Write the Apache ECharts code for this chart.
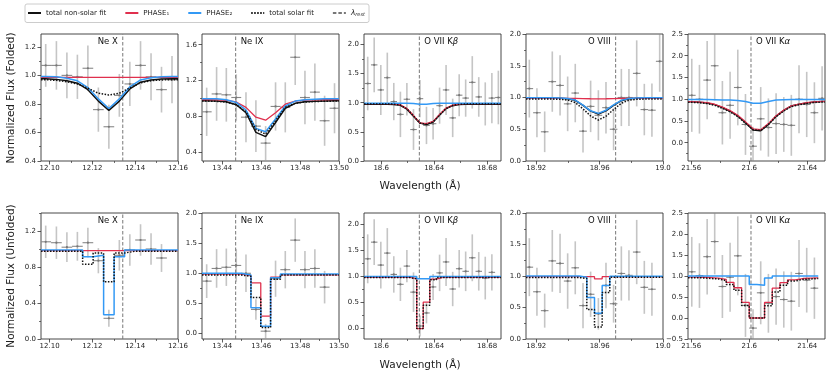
<!DOCTYPE html>
<html>
<head>
<meta charset="utf-8">
<script src="https://cdn.jsdelivr.net/npm/echarts@6/dist/echarts.min.js"></script>
<style>
html, body { margin: 0; padding: 0; background: #fff; }
#chart { width: 830px; height: 378px; }
</style>
</head>
<body>
<div id="chart"></div>
<script>
// ---- panel axes ----
var ionLabels = ['Ne X', 'Ne IX', 'O VII K{i|β}', 'O VIII', 'O VII K{i|α}'];
var labelSide = ['left', 'right', 'right', 'left', 'right'];
var xMin = [12.096, 13.4296, 18.587, 18.9135, 21.5578];
var xMax = [12.16, 13.50, 18.6905, 19.0, 21.6522];
var lambdaRest = [12.1342, 13.4469, 18.6288, 18.9701, 21.6012];
var xTicks = [[12.10, 12.12, 12.14, 12.16], [13.44, 13.46, 13.48, 13.50], [18.60, 18.64, 18.68], [18.92, 18.96, 19.00], [21.56, 21.60, 21.64]];
var xTickText = [['12.10', '12.12', '12.14', '12.16'], ['13.44', '13.46', '13.48', '13.50'], ['18.6', '18.64', '18.68'], ['18.92', '18.96', '19.0'], ['21.56', '21.6', '21.64']];
var yMinFold = [0.4, 0.3, 0, 0, -0.42];
var yMaxFold = [1.29, 1.72, 2.18, 2.0, 2.5];
var yTicksFold = [[0.4, 0.6, 0.8, 1.0, 1.2], [0.4, 0.8, 1.2, 1.6], [0, 0.5, 1, 1.5, 2], [0, 0.5, 1, 1.5, 2], [0, 0.5, 1, 1.5, 2, 2.5]];
var yMinUnf = [0, -0.09, -0.2, 0, -0.5];
var yMaxUnf = [1.4, 2.0, 2.22, 2.0, 2.5];
var yTicksUnf = [[0, 0.4, 0.8, 1.2], [0, 0.5, 1, 1.5, 2], [0, 0.5, 1, 1.5, 2], [0, 0.5, 1, 1.5, 2], [-0.5, 0, 0.5, 1, 1.5, 2, 2.5]];

// ---- Ne X ----
var neX_wave = [12.0982, 12.1032, 12.1081, 12.1130, 12.1179, 12.1228, 12.1277, 12.1326, 12.1375, 12.1425, 12.1474, 12.1523, 12.1572];
var neX_foldFlux = [1.07, 1.07, 1.00, 0.99, 1.05, 0.76, 0.64, 0.86, 0.94, 1.07, 0.99, 0.90, 0.97];
var neX_foldErr = [0.15, 0.17, 0.16, 0.155, 0.16, 0.155, 0.155, 0.15, 0.155, 0.17, 0.165, 0.16, 0.165];
var neX_unfFlux = [1.08, 1.07, 1.02, 1.03, 1.07, 0.87, 0.23, 0.93, 0.99, 1.10, 1.00, 0.90, null];
var neX_unfErr = [0.18, 0.18, 0.165, 0.16, 0.165, 0.14, 0.095, 0.17, 0.175, 0.175, 0.175, 0.155, null];
var neX_foldNonSolar = [0.976, 0.972, 0.962, 0.945, 0.900, 0.820, 0.755, 0.820, 0.905, 0.952, 0.968, 0.974, 0.976];
var neX_foldP1 = [0.986, 0.986, 0.986, 0.986, 0.986, 0.986, 0.986, 0.986, 0.986, 0.986, 0.986, 0.986, 0.986];
var neX_foldP2 = [0.992, 0.990, 0.980, 0.962, 0.915, 0.835, 0.768, 0.835, 0.920, 0.968, 0.984, 0.990, 0.992];
var neX_foldSolar = [0.970, 0.965, 0.955, 0.940, 0.910, 0.875, 0.862, 0.875, 0.912, 0.948, 0.963, 0.968, 0.970];
var neX_unfP1 = [0.983, 0.983, 0.983, 0.983, 0.983, 0.983, 0.983, 0.983, 0.983, 0.983, 0.983, 0.983, 0.983];
var neX_unfP2 = [0.99, 0.99, 0.99, 0.99, 0.915, 0.93, 0.27, 0.915, 0.99, 0.99, 0.99, 0.99, 0.99];
var neX_unfSolar = [0.975, 0.975, 0.975, 0.975, 0.83, 0.955, 0.635, 0.955, 0.975, 0.975, 0.975, 0.975, 0.975];

// ---- Ne IX ----
var neIX_wave = [13.4320, 13.4371, 13.4421, 13.4472, 13.4522, 13.4573, 13.4623, 13.4674, 13.4724, 13.4775, 13.4825, 13.4876, 13.4926, 13.4977];
var neIX_foldFlux = [0.85, 1.05, 1.04, 1.01, 0.79, 0.69, 0.50, 0.91, 0.90, 1.46, 1.01, 1.07, 0.75, 0.89];
var neIX_foldErr = [0.27, 0.30, 0.30, 0.26, 0.28, 0.29, 0.19, 0.27, 0.28, 0.31, 0.30, 0.32, 0.28, 0.28];
var neIX_unfFlux = [0.87, 1.08, 1.10, 1.13, 1.00, 0.40, 0.04, 0.91, 1.06, 1.55, 1.06, 1.08, 0.77, null];
var neIX_unfErr = [0.28, 0.32, 0.31, 0.27, 0.31, 0.17, 0.12, 0.30, 0.31, 0.36, 0.31, 0.32, 0.27, null];
var neIX_foldNonSolar = [0.975, 0.972, 0.962, 0.930, 0.840, 0.620, 0.572, 0.730, 0.890, 0.945, 0.962, 0.968, 0.972, 0.975];
var neIX_foldP1 = [0.985, 0.983, 0.977, 0.960, 0.900, 0.790, 0.756, 0.840, 0.935, 0.970, 0.980, 0.983, 0.985, 0.986];
var neIX_foldP2 = [0.997, 0.995, 0.985, 0.955, 0.870, 0.665, 0.627, 0.770, 0.915, 0.970, 0.985, 0.990, 0.995, 0.997];
var neIX_foldSolar = [0.970, 0.967, 0.958, 0.930, 0.850, 0.655, 0.600, 0.750, 0.900, 0.945, 0.960, 0.965, 0.968, 0.970];
var neIX_unfP1 = [0.985, 0.985, 0.985, 0.985, 0.96, 0.84, 0.29, 0.935, 0.975, 0.975, 0.975, 0.975, 0.975, 0.975];
var neIX_unfP2 = [1.0, 1.0, 1.0, 1.0, 0.97, 0.43, 0.12, 0.925, 0.99, 0.99, 0.99, 0.99, 0.99, 0.99];
var neIX_unfSolar = [0.97, 0.97, 0.97, 0.97, 0.95, 0.60, 0.10, 0.90, 0.97, 0.97, 0.97, 0.97, 0.97, 0.97];

// ---- O VII K beta ----
var o7b_wave = [18.5898, 18.5947, 18.5997, 18.6046, 18.6095, 18.6145, 18.6194, 18.6244, 18.6293, 18.6342, 18.6392, 18.6441, 18.6490, 18.6540, 18.6589, 18.6638, 18.6688, 18.6737, 18.6786, 18.6836, 18.6885];
var o7b_foldFlux = [1.33, 1.65, 1.22, 1.43, 1.02, 0.80, 1.06, 0.54, 1.07, 0.61, 0.64, 0.95, 1.22, 0.74, 1.13, 1.08, 1.35, 1.10, 0.98, 1.08, 1.09];
var o7b_foldErr = [0.46, 0.47, 0.43, 0.43, 0.32, 0.39, 0.28, 0.35, 0.32, 0.32, 0.27, 0.31, 0.43, 0.33, 0.36, 0.32, 0.45, 0.34, 0.37, 0.43, 0.46];
var o7b_unfFlux = [1.34, 1.66, 1.22, 1.45, 1.04, 0.85, 1.20, 0.70, 0.05, 0.30, 0.80, 1.07, 1.28, 0.76, 1.15, 1.10, 1.36, 1.10, 0.97, 1.08, null];
var o7b_unfErr = [0.47, 0.44, 0.45, 0.48, 0.35, 0.32, 0.31, 0.38, 0.20, 0.20, 0.25, 0.35, 0.46, 0.33, 0.36, 0.38, 0.45, 0.37, 0.41, 0.35, null];
var o7b_foldNonSolar = [0.975, 0.975, 0.975, 0.975, 0.97, 0.955, 0.89, 0.77, 0.65, 0.625, 0.67, 0.79, 0.90, 0.95, 0.968, 0.975, 0.975, 0.975, 0.975, 0.975, 0.975];
var o7b_foldP1 = [0.985, 0.985, 0.985, 0.985, 0.98, 0.965, 0.90, 0.78, 0.655, 0.64, 0.68, 0.80, 0.91, 0.96, 0.978, 0.985, 0.985, 0.985, 0.985, 0.985, 0.985];
var o7b_foldP2 = [0.99, 0.99, 0.99, 0.99, 0.99, 0.99, 0.99, 0.985, 0.975, 0.975, 0.985, 0.99, 0.99, 0.99, 0.99, 0.99, 0.99, 0.99, 0.99, 0.99, 0.99];
var o7b_foldSolar = [0.978, 0.978, 0.978, 0.978, 0.975, 0.96, 0.895, 0.775, 0.65, 0.63, 0.67, 0.79, 0.90, 0.955, 0.972, 0.978, 0.978, 0.978, 0.978, 0.978, 0.978];
var o7b_unfP1 = [0.985, 0.985, 0.985, 0.985, 0.985, 0.985, 0.985, 0.96, 0.0, 0.51, 0.95, 0.985, 0.985, 0.985, 0.985, 0.985, 0.985, 0.985, 0.985, 0.985, 0.985];
var o7b_unfP2 = [1.0, 1.0, 1.0, 1.0, 1.0, 1.0, 1.0, 1.0, 0.955, 0.955, 1.0, 1.0, 1.0, 1.0, 1.0, 1.0, 1.0, 1.0, 1.0, 1.0, 1.0];
var o7b_unfSolar = [0.98, 0.98, 0.98, 0.98, 0.98, 0.98, 0.98, 0.955, 0.0, 0.45, 0.94, 0.98, 0.98, 0.98, 0.98, 0.98, 0.98, 0.98, 0.98, 0.98, 0.98];

// ---- O VIII ----
var o8_wave = [18.9156, 18.9204, 18.9253, 18.9301, 18.9350, 18.9398, 18.9446, 18.9495, 18.9543, 18.9592, 18.9640, 18.9688, 18.9737, 18.9785, 18.9834, 18.9882, 18.9930, 18.9979];
var o8_foldFlux = [1.14, 0.76, 0.46, 1.25, 1.19, 0.90, 1.07, 0.47, 0.86, 0.72, 0.84, 0.50, 1.00, 1.00, 1.38, 0.81, 0.80, 1.57];
var o8_foldErr = [0.455, 0.385, 0.32, 0.475, 0.475, 0.43, 0.46, 0.335, 0.405, 0.395, 0.405, 0.33, 0.45, 0.45, 0.52, 0.405, 0.42, 0.48];
var o8_unfFlux = [1.14, 0.75, 0.45, 1.24, 1.20, 0.92, 1.13, 0.53, 0.71, 0.40, 0.85, 0.56, 1.04, 1.01, 1.38, 0.82, 0.79, null];
var o8_unfErr = [0.46, 0.38, 0.27, 0.49, 0.47, 0.44, 0.42, 0.36, 0.36, 0.25, 0.36, 0.30, 0.43, 0.40, 0.51, 0.42, 0.42, null];
var o8_foldNonSolar = [0.99, 0.99, 0.99, 0.99, 0.988, 0.98, 0.955, 0.875, 0.785, 0.74, 0.79, 0.875, 0.95, 0.98, 0.988, 0.99, 0.99, 0.99];
var o8_foldP1 = [0.986, 0.986, 0.986, 0.986, 0.986, 0.986, 0.985, 0.983, 0.98, 0.978, 0.98, 0.983, 0.985, 0.986, 0.986, 0.986, 0.986, 0.986];
var o8_foldP2 = [0.995, 0.995, 0.995, 0.995, 0.993, 0.985, 0.96, 0.88, 0.79, 0.75, 0.80, 0.885, 0.955, 0.985, 0.993, 0.995, 0.995, 0.995];
var o8_foldSolar = [0.975, 0.975, 0.975, 0.975, 0.972, 0.96, 0.92, 0.82, 0.71, 0.645, 0.705, 0.81, 0.91, 0.958, 0.972, 0.975, 0.975, 0.975];
var o8_unfP1 = [0.99, 0.99, 0.99, 0.99, 0.99, 0.99, 0.99, 0.99, 0.99, 0.955, 0.99, 0.99, 0.99, 0.99, 0.99, 0.99, 0.99, 0.99];
var o8_unfP2 = [1.0, 1.0, 1.0, 1.0, 1.0, 1.0, 1.0, 0.98, 0.66, 0.41, 0.85, 0.995, 0.995, 0.995, 0.995, 0.995, 0.995, 0.995];
var o8_unfSolar = [0.975, 0.975, 0.975, 0.975, 0.975, 0.975, 0.975, 0.96, 0.47, 0.19, 0.74, 0.98, 0.98, 0.98, 0.98, 0.98, 0.98, 0.98];

// ---- O VII K alpha ----
var o7a_wave = [21.5604, 21.5657, 21.5710, 21.5762, 21.5815, 21.5868, 21.5921, 21.5974, 21.6026, 21.6079, 21.6132, 21.6185, 21.6238, 21.6290, 21.6343, 21.6396, 21.6449, 21.6502];
var o7a_foldFlux = [1.09, 1.00, 1.44, 1.77, 0.69, 0.86, 1.27, 0.42, -0.08, 0.55, 0.35, 0.44, 0.42, 0.40, 1.00, 0.88, 0.69, 1.02];
var o7a_foldErr = [0.84, 0.79, 0.90, 0.80, 0.73, 0.77, 0.87, 0.70, 0.45, 0.73, 0.67, 0.70, 0.63, 0.70, 0.78, 0.75, 0.70, 0.74];
var o7a_unfFlux = [1.10, 1.01, 1.46, 1.82, 0.75, 0.97, 1.48, 0.30, -0.24, 0.60, 0.35, 0.51, 0.44, 0.40, 1.06, 0.90, 0.71, null];
var o7a_unfErr = [0.83, 0.77, 0.90, 0.78, 0.75, 0.82, 0.94, 0.75, 0.45, 0.75, 0.70, 0.67, 0.67, 0.70, 0.80, 0.77, 0.73, null];
var o7a_foldNonSolar = [0.94, 0.93, 0.913, 0.876, 0.81, 0.725, 0.615, 0.46, 0.295, 0.275, 0.42, 0.608, 0.743, 0.846, 0.886, 0.916, 0.936, 0.946];
var o7a_foldP1 = [0.946, 0.935, 0.92, 0.885, 0.82, 0.74, 0.63, 0.48, 0.32, 0.30, 0.44, 0.62, 0.75, 0.85, 0.89, 0.92, 0.94, 0.95];
var o7a_foldP2 = [0.995, 0.995, 0.993, 0.99, 0.985, 0.98, 0.97, 0.95, 0.91, 0.91, 0.95, 0.98, 0.99, 0.995, 0.995, 0.995, 0.995, 0.995];
var o7a_foldSolar = [0.93, 0.92, 0.90, 0.86, 0.79, 0.71, 0.60, 0.45, 0.30, 0.28, 0.42, 0.60, 0.73, 0.83, 0.875, 0.905, 0.925, 0.935];
var o7a_unfP1 = [0.975, 0.97, 0.96, 0.95, 0.92, 0.85, 0.72, 0.37, 0.0, 0.0, 0.37, 0.71, 0.84, 0.91, 0.94, 0.95, 0.955];
var o7a_unfP2 = [1.0, 1.0, 1.0, 1.0, 1.0, 1.0, 1.0, 1.0, 0.80, 0.78, 0.95, 1.0, 1.0, 1.0, 1.0, 1.0, 1.0];
var o7a_unfSolar = [0.96, 0.955, 0.94, 0.93, 0.89, 0.80, 0.66, 0.30, 0.0, 0.0, 0.29, 0.62, 0.78, 0.88, 0.92, 0.93, 0.94];

var panels = [
    {wave: neX_wave, fold: [neX_foldFlux, neX_foldErr], unf: [neX_unfFlux, neX_unfErr],
     foldModels: [neX_foldNonSolar, neX_foldP1, neX_foldP2, neX_foldSolar], unfModels: [null, neX_unfP1, neX_unfP2, neX_unfSolar]},
    {wave: neIX_wave, fold: [neIX_foldFlux, neIX_foldErr], unf: [neIX_unfFlux, neIX_unfErr],
     foldModels: [neIX_foldNonSolar, neIX_foldP1, neIX_foldP2, neIX_foldSolar], unfModels: [null, neIX_unfP1, neIX_unfP2, neIX_unfSolar]},
    {wave: o7b_wave, fold: [o7b_foldFlux, o7b_foldErr], unf: [o7b_unfFlux, o7b_unfErr],
     foldModels: [o7b_foldNonSolar, o7b_foldP1, o7b_foldP2, o7b_foldSolar], unfModels: [null, o7b_unfP1, o7b_unfP2, o7b_unfSolar]},
    {wave: o8_wave, fold: [o8_foldFlux, o8_foldErr], unf: [o8_unfFlux, o8_unfErr],
     foldModels: [o8_foldNonSolar, o8_foldP1, o8_foldP2, o8_foldSolar], unfModels: [null, o8_unfP1, o8_unfP2, o8_unfSolar]},
    {wave: o7a_wave, fold: [o7a_foldFlux, o7a_foldErr], unf: [o7a_unfFlux, o7a_unfErr],
     foldModels: [o7a_foldNonSolar, o7a_foldP1, o7a_foldP2, o7a_foldSolar], unfModels: [null, o7a_unfP1, o7a_unfP2, o7a_unfSolar]}
];

// ---- layout / style ----
var FONT = 'DejaVu Sans';
var RED = '#e0304e';
var BLUE = '#3399f5';
var colLeft = [41, 202, 364, 526, 688];
var rowTop = [34, 213];
var rowH = [127, 126];
var panelW = 137;
var modelNames = ['total non-solar fit', 'PHASE₁', 'PHASE₂', 'total solar fit'];
var modelLine = [
    {color: '#111', width: 1.5, type: 'solid'},
    {color: RED, width: 1.3, type: 'solid'},
    {color: BLUE, width: 1.5, type: 'solid'},
    {color: '#111', width: 1.5, type: [1.5, 1.5]}
];
var REST = 'λrest';

function minorTicks(major, lo, hi) {
    var step = (major[1] - major[0]) / 2;
    var out = [];
    var v = major[0] - step * Math.floor((major[0] - lo) / step + 1e-9);
    for (; v <= hi + 1e-9; v += step) {
        var isMajor = major.some(function (m) { return Math.abs(m - v) < step / 10; });
        if (!isMajor) out.push(+v.toFixed(6));
    }
    return out;
}

function curveData(wave, vals, x0, x1) {
    var pts = [[x0, vals[0]]];
    for (var k = 0; k < vals.length; k++) pts.push([wave[k], vals[k]]);
    pts.push([x1, vals[vals.length - 1]]);
    return pts;
}

function stepData(wave, vals, x0, x1) {
    var pts = [];
    for (var k = 0; k < vals.length; k++) {
        var left = k === 0 ? x0 : (wave[k - 1] + wave[k]) / 2;
        pts.push([left, vals[k]]);
    }
    var n = vals.length;
    var end = n === wave.length ? x1 : (wave[n - 1] + wave[n]) / 2;
    pts.push([end, vals[n - 1]]);
    return pts;
}

function renderErr(params, api) {
    var x = api.value(0), y = api.value(1), e = api.value(2), h = api.value(3);
    var top = api.coord([x, y + e]);
    var bot = api.coord([x, y - e]);
    var l = api.coord([x - h, y]);
    var r = api.coord([x + h, y]);
    var c = api.coord([x, y]);
    var cs = params.coordSys;
    return {
        type: 'group',
        clipPath: {type: 'rect', shape: {x: cs.x, y: cs.y, width: cs.width, height: cs.height}},
        children: [
            {type: 'line', shape: {x1: top[0], y1: top[1], x2: bot[0], y2: bot[1]},
             style: {stroke: 'rgba(140,140,140,0.5)', lineWidth: 1.6}},
            {type: 'line', shape: {x1: l[0], y1: l[1], x2: r[0], y2: r[1]},
             style: {stroke: '#888', lineWidth: 1.1}},
            {type: 'circle', shape: {cx: c[0], cy: c[1], r: 1.1}, style: {fill: '#777'}}
        ]
    };
}

var grids = [], xAxes = [], yAxes = [], series = [];

for (var r = 0; r < 2; r++) {
    for (var i = 0; i < 5; i++) {
        var g = r * 5 + i;
        var p = panels[i];
        var yMin = r === 0 ? yMinFold[i] : yMinUnf[i];
        var yMax = r === 0 ? yMaxFold[i] : yMaxUnf[i];
        var yT = r === 0 ? yTicksFold[i] : yTicksUnf[i];

        grids.push({
            left: colLeft[i], top: rowTop[r], width: panelW, height: rowH[r],
            show: true, borderColor: '#333', borderWidth: 0.9, backgroundColor: 'transparent',
            containLabel: false, outerBoundsMode: 'none'
        });

        (function (ii) {
            xAxes.push({
                gridIndex: g, type: 'value', min: xMin[ii], max: xMax[ii], position: 'bottom',
                axisLine: {show: false, onZero: false}, splitLine: {show: false},
                axisTick: {show: true, customValues: xTicks[ii], length: 3.5, lineStyle: {color: '#333', width: 0.8}},
                axisLabel: {
                    show: true, customValues: xTicks[ii], fontSize: 7, fontFamily: FONT, color: '#222', margin: 4,
                    formatter: function (v) {
                        for (var k = 0; k < xTicks[ii].length; k++) {
                            if (Math.abs(xTicks[ii][k] - v) < 1e-7) return xTickText[ii][k];
                        }
                        return '';
                    }
                }
            });
        })(i);
        var xMinor = minorTicks(xTicks[i], xMin[i], xMax[i]);
        xAxes.push({
            gridIndex: g, type: 'value', min: xMin[i], max: xMax[i], position: 'bottom',
            axisLine: {show: false, onZero: false}, splitLine: {show: false},
            axisTick: {show: true, customValues: xMinor, length: 2, lineStyle: {color: '#333', width: 0.7}},
            axisLabel: {show: true, customValues: xMinor, formatter: function () { return ''; }}
        });

        yAxes.push({
            gridIndex: g, type: 'value', min: yMin, max: yMax, position: 'left',
            axisLine: {show: false, onZero: false}, splitLine: {show: false},
            axisTick: {show: true, customValues: yT, length: 3.5, lineStyle: {color: '#333', width: 0.8}},
            axisLabel: {
                show: true, customValues: yT, fontSize: 7, fontFamily: FONT, color: '#222', margin: 5,
                formatter: function (v) { return (v < 0 ? '−' : '') + Math.abs(v).toFixed(1); }
            }
        });
        var yMinor = minorTicks(yT, yMin, yMax);
        yAxes.push({
            gridIndex: g, type: 'value', min: yMin, max: yMax, position: 'left',
            axisLine: {show: false, onZero: false}, splitLine: {show: false},
            axisTick: {show: true, customValues: yMinor, length: 2, lineStyle: {color: '#333', width: 0.7}},
            axisLabel: {show: true, customValues: yMinor, formatter: function () { return ''; }}
        });

        var xi = 2 * g, yi = 2 * g;

        // rest wavelength
        series.push({
            name: REST, type: 'line', xAxisIndex: xi, yAxisIndex: yi, symbol: 'none', silent: true, z: 1,
            itemStyle: {color: '#777'},
            lineStyle: {color: '#777', width: 1, type: [3.5, 2]},
            data: [[lambdaRest[i], yMin], [lambdaRest[i], yMax]]
        });

        // data points
        var obs = r === 0 ? p.fold : p.unf;
        var half = (p.wave[1] - p.wave[0]) / 2;
        var pts = [];
        for (var k = 0; k < p.wave.length; k++) {
            if (obs[0][k] == null) continue;
            pts.push([p.wave[k], obs[0][k], obs[1][k], half]);
        }
        series.push({
            name: 'data', type: 'custom', xAxisIndex: xi, yAxisIndex: yi, silent: true, z: 2,
            renderItem: renderErr, data: pts
        });

        // models
        var models = r === 0 ? p.foldModels : p.unfModels;
        for (var m = 0; m < 4; m++) {
            if (!models[m]) continue;
            series.push({
                name: modelNames[m], type: 'line', xAxisIndex: xi, yAxisIndex: yi,
                symbol: 'none', silent: true, z: 3 + m, step: r === 1 ? 'end' : false,
                itemStyle: {color: modelLine[m].color},
                lineStyle: modelLine[m],
                data: r === 0 ? curveData(p.wave, models[m], xMin[i], xMax[i]) : stepData(p.wave, models[m], xMin[i], xMax[i])
            });
        }
    }
}

var chart = echarts.init(document.getElementById('chart'));
chart.setOption({
    animation: false,
    backgroundColor: '#fff',
    textStyle: {fontFamily: FONT},
    legend: {
        data: ['total non-solar fit', 'PHASE₁', 'PHASE₂', 'total solar fit', REST],
        left: 25, top: 4, padding: [5, 4, 5, 2], itemGap: 18, itemWidth: 13, itemHeight: 8,
        borderColor: '#ccc', borderWidth: 1, borderRadius: 2, selectedMode: false,
        itemStyle: {opacity: 0},
        formatter: function (name) { return name === REST ? '{it|λ}{sub|rest}' : name; },
        textStyle: {
            fontSize: 7, fontFamily: FONT, color: '#222',
            rich: {
                it: {fontSize: 7.5, fontStyle: 'italic', fontFamily: FONT, color: '#222'},
                sub: {fontSize: 5, fontStyle: 'italic', fontFamily: FONT, color: '#222', padding: [4, 0, 0, 0]}
            }
        }
    },
    grid: grids,
    xAxis: xAxes,
    yAxis: yAxes,
    series: series
});

// titles and line labels
var graphics = [
    {type: 'text', x: 11, y: 98, rotation: Math.PI / 2,
     style: {text: 'Normalized Flux (Folded)', fontSize: 10.5, fontFamily: FONT, fill: '#222', align: 'center', verticalAlign: 'middle'}},
    {type: 'text', x: 11, y: 276, rotation: Math.PI / 2,
     style: {text: 'Normalized Flux (Unfolded)', fontSize: 10.5, fontFamily: FONT, fill: '#222', align: 'center', verticalAlign: 'middle'}},
    {type: 'text', x: 420, y: 186,
     style: {text: 'Wavelength (Å)', fontSize: 10.5, fontFamily: FONT, fill: '#222', align: 'center', verticalAlign: 'middle'}},
    {type: 'text', x: 420, y: 365,
     style: {text: 'Wavelength (Å)', fontSize: 10.5, fontFamily: FONT, fill: '#222', align: 'center', verticalAlign: 'middle'}}
];
for (var r2 = 0; r2 < 2; r2++) {
    for (var i2 = 0; i2 < 5; i2++) {
        var g2 = r2 * 5 + i2;
        var yTop = r2 === 0 ? yMaxFold[i2] : yMaxUnf[i2];
        var px = chart.convertToPixel({xAxisIndex: 2 * g2, yAxisIndex: 2 * g2}, [lambdaRest[i2], yTop]);
        var isLeft = labelSide[i2] === 'left';
        graphics.push({
            type: 'text', x: px[0] + (isLeft ? -5 : 5), y: px[1] + 8,
            style: {
                text: ionLabels[i2], fontSize: 8.5, fontFamily: FONT, fill: '#111',
                align: isLeft ? 'right' : 'left', verticalAlign: 'middle',
                rich: {i: {fontSize: 8.5, fontStyle: 'italic', fontFamily: FONT, fill: '#111'}}
            }
        });
    }
}
chart.setOption({graphic: graphics});
</script>
</body>
</html>
